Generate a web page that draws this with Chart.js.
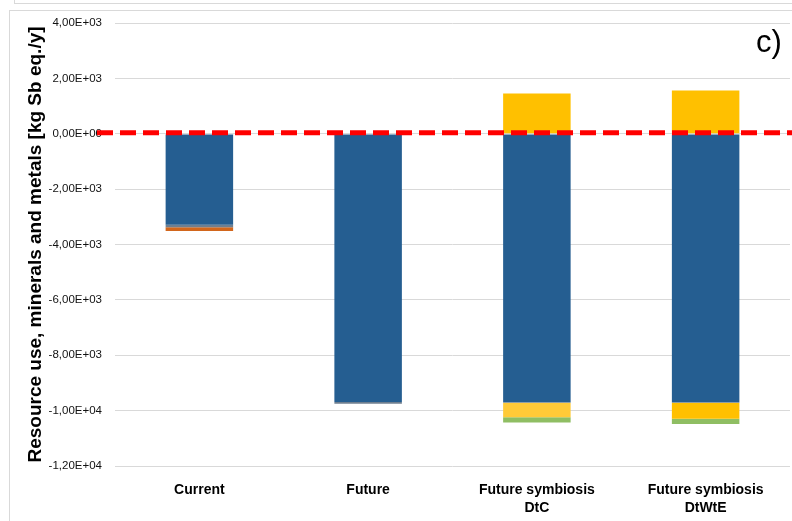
<!DOCTYPE html>
<html>
<head>
<meta charset="utf-8">
<script src="https://cdn.jsdelivr.net/npm/chart.js@4"></script>
<style>
  html, body { margin: 0; padding: 0; background: #fff; }
  #wrap { position: relative; width: 792px; height: 521px; overflow: hidden; }
  #topbox { position: absolute; left: 14px; top: -2px; width: 800px; height: 4px; border: 1px solid #d9d9d9; }
  #frame { position: absolute; left: 9px; top: 10px; width: 800px; height: 600px; border: 1px solid #d9d9d9; }
  #label { position: absolute; left: 756px; top: 24px; font: 31px "Liberation Sans", sans-serif; color: #000; }
  canvas { position: absolute; left: 0; top: 0; }
</style>
</head>
<body>
<div id="wrap">
  <div id="topbox"></div>
  <div id="frame"></div>
  <canvas id="graph" width="792" height="521"></canvas>
  <div id="label">c)</div>
</div>
<script>
const categories = [["Current"], ["Future"], ["Future symbiosis", "DtC"], ["Future symbiosis", "DtWtE"]];

const nearZero   = [-25, -25, -30, -30];
const mainBlue   = [-3260, -9660, -9670, -9670];
const greyPart   = [-90, -70, -20, -20];
const orangePart = [-140, 0, 0, 0];
const goldUp     = [0, 0, 1450, 1560];
const lightGold  = [0, 0, -520, 0];
const goldDown   = [0, 0, 0, -570];
const greenPart  = [0, 0, -190, -190];

const yTicks = [4000, 2000, 0, -2000, -4000, -6000, -8000, -10000, -12000];

const fmt = (v) => {
	if (v === 0) return "0,00E+00";
	const exp = Math.floor(Math.log10(Math.abs(v)));
	const m = (v / Math.pow(10, exp)).toFixed(2).replace(".", ",");
	return m + "E+" + String(exp).padStart(2, "0");
};

const zeroLine = {
	id: "zeroLine",
	afterDatasetsDraw(chart) {
		const ctx = chart.ctx;
		const y = chart.scales.y.getPixelForValue(0) - 1;
		ctx.save();
		ctx.strokeStyle = "#ff0000";
		ctx.lineWidth = 5;
		ctx.setLineDash([16, 7]);
		ctx.beginPath();
		ctx.moveTo(97, y);
		ctx.lineTo(chart.width, y);
		ctx.stroke();
		ctx.restore();
	},
};

const bar = (data, color) => ({
	data: data,
	backgroundColor: color,
	borderWidth: 0,
	barPercentage: 0.4,
	categoryPercentage: 1,
});

const family = "'Liberation Sans', sans-serif";

new Chart(document.getElementById("graph"), {
	type: "bar",
	data: {
		labels: categories,
		datasets: [
			bar(goldUp, "#ffc000"),
			bar(nearZero, "#8ea9c8"),
			bar(mainBlue, "#255e91"),
			bar(greyPart, "#6f7f90"),
			bar(orangePart, "#d2661c"),
			bar(lightGold, "#ffca38"),
			bar(goldDown, "#ffc000"),
			bar(greenPart, "#8fbe63"),
		],
	},
	options: {
		responsive: false,
		animation: false,
		layout: { padding: { left: 9, right: 2, top: 23, bottom: 0 } },
		plugins: { legend: { display: false }, tooltip: { enabled: false } },
		scales: {
			x: {
				stacked: true,
				grid: { display: false },
				border: { display: false },
				ticks: {
					color: "#000",
					padding: 7,
					font: { family: family, size: 14, weight: "bold", lineHeight: 1.3 },
				},
				afterFit: (s) => { s.height = 55; },
			},
			y: {
				stacked: true,
				min: -12000,
				max: 4000,
				afterBuildTicks: (s) => { s.ticks = yTicks.map((v) => ({ value: v })); },
				grid: { color: "#d9d9d9", drawTicks: false },
				border: { display: false },
				ticks: {
					color: "#111",
					padding: 13,
					callback: (v) => fmt(v),
					font: { family: family, size: 11.5 },
				},
				title: {
					display: true,
					text: "Resource use, minerals and metals [kg Sb eq./y]",
					color: "#000",
					padding: { top: 15, bottom: 0 },
					font: { family: family, size: 19, weight: "bold" },
				},
				afterFit: (s) => { s.width = 106; },
			},
		},
	},
	plugins: [zeroLine],
});
</script>
</body>
</html>
